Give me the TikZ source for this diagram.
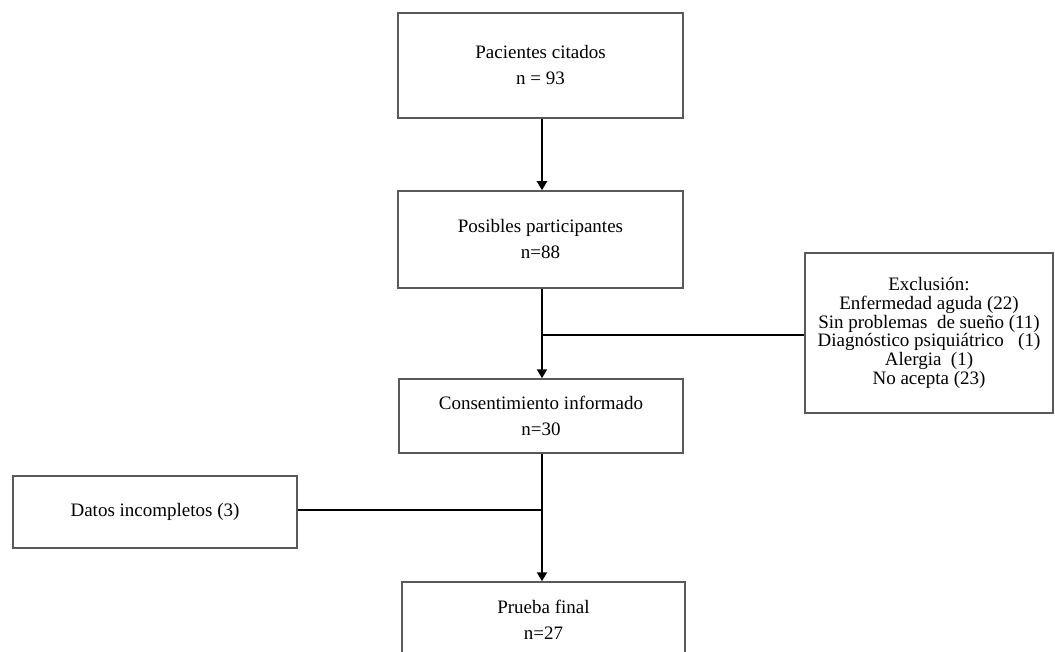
\documentclass[tikz,border=0pt]{standalone}
\usepackage{fontspec}
\setmainfont{Liberation Serif}
\usetikzlibrary{arrows.meta}
\tikzset{
  flowbox/.style={draw=black!65, line width=1.5pt, fill=white, align=center, inner sep=0pt,
    font=\fontsize{19}{26}\selectfont},
  conn/.style={line width=2.8pt, black},
  arr/.style={conn, -{Triangle[width=10pt,length=9pt]}},
}
\begin{document}
\begin{tikzpicture}[x=1pt,y=-1pt]
\useasboundingbox (0,0) rectangle (1055,652);
\node[flowbox, minimum width=285pt, minimum height=105pt] (b1) at (540.5,65.5) {Pacientes citados\\n = 93};
\node[flowbox, minimum width=285pt, minimum height=97pt] (b2) at (540.5,239.5) {Posibles participantes\\n=88};
\node[flowbox, minimum width=284pt, minimum height=74pt] (b3) at (541,416) {Consentimiento informado\\n=30};
\node[flowbox, minimum width=284pt, minimum height=72pt] (b4) at (155,512) {Datos incompletos (3)};
\node[flowbox, minimum width=248pt, minimum height=160pt, font=\fontsize{19}{18.8}\selectfont] (ex) at (929,333)
  {Exclusión:\\Enfermedad aguda (22)\\Sin problemas\ \ de sueño (11)\\Diagnóstico psiquiátrico\ \ \ (1)\\Alergia\ \ (1)\\No acepta (23)};
\node[flowbox, minimum width=283pt, minimum height=76pt] (b5) at (543.5,620) {Prueba final\\n=27};
\coordinate (sp) at (542,0);
\coordinate (j1) at (542,335);
\coordinate (j2) at (542,510);
\draw[arr] (b1.south -| sp) -- (b2.north -| sp);
\draw[arr] (b2.south -| sp) -- (b3.north -| sp);
\draw[conn] (j1) -- (j1 -| ex.west);
\draw[arr] (b3.south -| sp) -- (b5.north -| sp);
\draw[conn] (b4.east |- j2) -- (j2);
\end{tikzpicture}
\end{document}
